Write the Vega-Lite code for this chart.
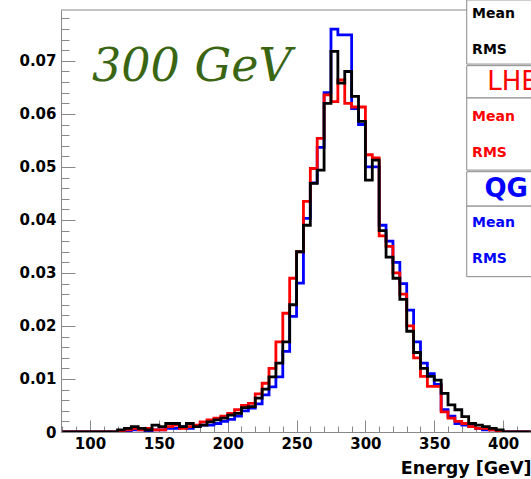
{
  "$schema": "https://vega.github.io/schema/vega-lite/v6.json",
  "width": 470,
  "height": 422,
  "autosize": {"type": "none"},
  "padding": {"left": 61, "top": 10, "right": 0, "bottom": 47},
  "background": "#ffffff",
  "view": {"stroke": null},
  "resolve": {"axis": {"x": "independent", "y": "independent"}},
  "datasets": {
    "h": [
      {"x": 80, "k": 0, "r": 0, "b": 0},
      {"x": 85, "k": 0, "r": 0, "b": 0},
      {"x": 90, "k": 0, "r": 0, "b": 0},
      {"x": 95, "k": 0, "r": 0, "b": 0},
      {"x": 100, "k": 0, "r": 0, "b": 0},
      {"x": 105, "k": 0, "r": 0, "b": 0},
      {"x": 110, "k": 0, "r": 0, "b": 0},
      {"x": 115, "k": 0, "r": 0, "b": 0},
      {"x": 120, "k": 0.0004, "r": 0, "b": 0},
      {"x": 125, "k": 0.0007, "r": 0.0004, "b": 0.0002},
      {"x": 130, "k": 0.001, "r": 0.0007, "b": 0.0004},
      {"x": 135, "k": 0.0007, "r": 0.0004, "b": 0.0004},
      {"x": 140, "k": 0.0004, "r": 0.0007, "b": 0.0002},
      {"x": 145, "k": 0.0013, "r": 0.0004, "b": 0.0004},
      {"x": 150, "k": 0.001, "r": 0.0004, "b": 0.0004},
      {"x": 155, "k": 0.0016, "r": 0.001, "b": 0.0007},
      {"x": 160, "k": 0.0016, "r": 0.0013, "b": 0.0007},
      {"x": 165, "k": 0.001, "r": 0.0007, "b": 0.001},
      {"x": 170, "k": 0.0016, "r": 0.001, "b": 0.0007},
      {"x": 175, "k": 0.001, "r": 0.0013, "b": 0.001},
      {"x": 180, "k": 0.0013, "r": 0.0019, "b": 0.0013},
      {"x": 185, "k": 0.0019, "r": 0.0023, "b": 0.0013},
      {"x": 190, "k": 0.0023, "r": 0.0026, "b": 0.0016},
      {"x": 195, "k": 0.0026, "r": 0.003, "b": 0.002},
      {"x": 200, "k": 0.0032, "r": 0.0035, "b": 0.0024},
      {"x": 205, "k": 0.0035, "r": 0.0042, "b": 0.003},
      {"x": 210, "k": 0.0046, "r": 0.005, "b": 0.004},
      {"x": 215, "k": 0.0048, "r": 0.0054, "b": 0.0045},
      {"x": 220, "k": 0.0064, "r": 0.0072, "b": 0.0053},
      {"x": 225, "k": 0.0081, "r": 0.0092, "b": 0.007},
      {"x": 230, "k": 0.0104, "r": 0.012, "b": 0.0085},
      {"x": 235, "k": 0.013, "r": 0.017, "b": 0.0104},
      {"x": 240, "k": 0.017, "r": 0.0224, "b": 0.0152},
      {"x": 245, "k": 0.024, "r": 0.029, "b": 0.0218},
      {"x": 250, "k": 0.034, "r": 0.034, "b": 0.0281},
      {"x": 255, "k": 0.039, "r": 0.0435, "b": 0.0403},
      {"x": 260, "k": 0.0469, "r": 0.0497, "b": 0.047},
      {"x": 265, "k": 0.0494, "r": 0.0554, "b": 0.0537},
      {"x": 270, "k": 0.062, "r": 0.0636, "b": 0.064},
      {"x": 275, "k": 0.0718, "r": 0.0623, "b": 0.076},
      {"x": 280, "k": 0.0658, "r": 0.0664, "b": 0.0749},
      {"x": 285, "k": 0.068, "r": 0.062, "b": 0.0749},
      {"x": 290, "k": 0.0633, "r": 0.0613, "b": 0.061},
      {"x": 295, "k": 0.0586, "r": 0.0613, "b": 0.058},
      {"x": 300, "k": 0.0475, "r": 0.0523, "b": 0.05},
      {"x": 305, "k": 0.0513, "r": 0.0517, "b": 0.05},
      {"x": 310, "k": 0.038, "r": 0.037, "b": 0.039},
      {"x": 315, "k": 0.033, "r": 0.035, "b": 0.036},
      {"x": 320, "k": 0.029, "r": 0.03, "b": 0.032},
      {"x": 325, "k": 0.025, "r": 0.026, "b": 0.028},
      {"x": 330, "k": 0.019, "r": 0.02, "b": 0.023},
      {"x": 335, "k": 0.015, "r": 0.014, "b": 0.017},
      {"x": 340, "k": 0.012, "r": 0.0105, "b": 0.013},
      {"x": 345, "k": 0.0105, "r": 0.0086, "b": 0.011},
      {"x": 350, "k": 0.0098, "r": 0.0086, "b": 0.009},
      {"x": 355, "k": 0.0073, "r": 0.0038, "b": 0.0042},
      {"x": 360, "k": 0.0051, "r": 0.0026, "b": 0.003},
      {"x": 365, "k": 0.0042, "r": 0.002, "b": 0.0016},
      {"x": 370, "k": 0.0029, "r": 0.0016, "b": 0.0013},
      {"x": 375, "k": 0.0016, "r": 0.001, "b": 0.001},
      {"x": 380, "k": 0.0013, "r": 0.0007, "b": 0.0007},
      {"x": 385, "k": 0.001, "r": 0.0007, "b": 0.0004},
      {"x": 390, "k": 0.0007, "r": 0.0004, "b": 0.0004},
      {"x": 395, "k": 0.0004, "r": 0, "b": 0.0002},
      {"x": 400, "k": 0, "r": 0, "b": 0},
      {"x": 405, "k": 0, "r": 0, "b": 0},
      {"x": 410, "k": 0, "r": 0, "b": 0},
      {"x": 415, "k": 0, "r": 0, "b": 0},
      {"x": 420, "k": 0, "r": 0, "b": 0}
    ]
  },
  "layer": [
    {
      "data": {"name": "h"},
      "transform": [{"fold": ["b"], "as": ["s", "v"]}],
      "mark": {"type": "line", "interpolate": "step-after", "color": "#0000ff", "strokeWidth": 2.8, "clip": true},
      "encoding": {
        "x": {
          "field": "x", "type": "quantitative",
          "scale": {"domain": [78.94, 420.26], "nice": false, "zero": false},
          "axis": {
            "orient": "bottom",
            "title": "Energy [GeV]",
            "titleFont": "DejaVu Sans", "titleFontWeight": "bold", "titleFontSize": 17.5,
            "titleColor": "#000000",
            "titleAnchor": "end", "titleAlign": "right", "titlePadding": 2,
            "values": [80, 90, 100, 110, 120, 130, 140, 150, 160, 170, 180, 190, 200, 210, 220, 230, 240, 250, 260, 270, 280, 290, 300, 310, 320, 330, 340, 350, 360, 370, 380, 390, 400, 410, 420],
            "labelExpr": "datum.value % 50 == 0 ? format(datum.value, 'd') : ''",
            "labelFont": "DejaVu Sans", "labelFontWeight": "bold", "labelFontSize": 15,
            "labelColor": "#000000", "labelOverlap": false, "labelFlush": false,
            "labelPadding": 16,
            "tickSize": {"condition": {"test": "datum.value % 50 == 0", "value": -12}, "value": -6},
            "tickColor": "#888888", "tickWidth": 1,
            "domainColor": "#888888", "domainWidth": 1,
            "grid": false
          }
        },
        "y": {
          "field": "v", "type": "quantitative",
          "scale": {"domain": [0, 0.0796], "nice": false, "zero": false},
          "axis": {
            "orient": "left",
            "title": null,
            "values": [0, 0.002, 0.004, 0.006, 0.008, 0.01, 0.012, 0.014, 0.016, 0.018, 0.02, 0.022, 0.024, 0.026, 0.028, 0.03, 0.032, 0.034, 0.036, 0.038, 0.04, 0.042, 0.044, 0.046, 0.048, 0.05, 0.052, 0.054, 0.056, 0.058, 0.06, 0.062, 0.064, 0.066, 0.068, 0.07, 0.072, 0.074, 0.076, 0.078],
            "labelExpr": "abs(datum.value * 100 - round(datum.value * 100)) < 0.001 ? format(datum.value, '.2~f') : ''",
            "labelFont": "DejaVu Sans", "labelFontWeight": "bold", "labelFontSize": 15,
            "labelColor": "#000000", "labelOverlap": false, "labelFlush": false,
            "labelPadding": 19,
            "tickSize": {"condition": {"test": "abs(datum.value * 100 - round(datum.value * 100)) < 0.001", "value": -14}, "value": -8},
            "tickColor": "#888888", "tickWidth": 1,
            "domainColor": "#888888", "domainWidth": 1,
            "grid": false
          }
        }
      }
    },
    {
      "data": {"name": "h"},
      "transform": [{"fold": ["r"], "as": ["s", "v"]}],
      "mark": {"type": "line", "interpolate": "step-after", "color": "#ff0000", "strokeWidth": 2.8, "clip": true},
      "encoding": {
        "x": {"field": "x", "type": "quantitative", "axis": null},
        "y": {"field": "v", "type": "quantitative", "axis": null}
      }
    },
    {
      "data": {"name": "h"},
      "transform": [{"fold": ["k"], "as": ["s", "v"]}],
      "mark": {"type": "line", "interpolate": "step-after", "color": "#000000", "strokeWidth": 2.8, "clip": true},
      "encoding": {
        "x": {"field": "x", "type": "quantitative", "axis": null},
        "y": {"field": "v", "type": "quantitative", "axis": null}
      }
    },
    {
      "data": {"values": [{"t": "frame"}]},
      "mark": {"type": "rule", "color": "#888888", "strokeWidth": 1, "clip": false},
      "encoding": {"x": {"datum": 78.94, "axis": null}, "x2": {"datum": 373.6}, "y": {"datum": 0.0796, "axis": null}}
    },
    {
      "data": {"values": [{"t": "300 GeV"}]},
      "mark": {"type": "text", "font": "DejaVu Serif", "fontStyle": "italic", "fontSize": 46, "color": "#3a6614", "align": "left", "baseline": "alphabetic"},
      "encoding": {"text": {"field": "t"}, "x": {"datum": 101.5, "axis": null}, "y": {"datum": 0.0662, "axis": null}}
    },
    {
      "data": {"values": [{"t": "box"}]},
      "mark": {"type": "rect", "fill": "#ffffff", "stroke": "#888888", "strokeWidth": 1, "clip": false},
      "encoding": {"x": {"datum": 373.6, "axis": null}, "x2": {"datum": 440}, "y": {"datum": 0.0815, "axis": null}, "y2": {"datum": 0.0694}}
    },
    {
      "data": {"values": [{"t": "box"}]},
      "mark": {"type": "rect", "fill": "#ffffff", "stroke": "#888888", "strokeWidth": 1, "clip": false},
      "encoding": {"x": {"datum": 373.6, "axis": null}, "x2": {"datum": 440}, "y": {"datum": 0.0691, "axis": null}, "y2": {"datum": 0.063}}
    },
    {
      "data": {"values": [{"t": "box"}]},
      "mark": {"type": "rect", "fill": "#ffffff", "stroke": "#888888", "strokeWidth": 1, "clip": false},
      "encoding": {"x": {"datum": 373.6, "axis": null}, "x2": {"datum": 440}, "y": {"datum": 0.063, "axis": null}, "y2": {"datum": 0.0494}}
    },
    {
      "data": {"values": [{"t": "box"}]},
      "mark": {"type": "rect", "fill": "#ffffff", "stroke": "#888888", "strokeWidth": 1, "clip": false},
      "encoding": {"x": {"datum": 373.6, "axis": null}, "x2": {"datum": 440}, "y": {"datum": 0.0491, "axis": null}, "y2": {"datum": 0.0426}}
    },
    {
      "data": {"values": [{"t": "box"}]},
      "mark": {"type": "rect", "fill": "#ffffff", "stroke": "#888888", "strokeWidth": 1, "clip": false},
      "encoding": {"x": {"datum": 373.6, "axis": null}, "x2": {"datum": 440}, "y": {"datum": 0.0426, "axis": null}, "y2": {"datum": 0.0293}}
    },
    {
      "data": {"values": [{"t": "Mean"}]},
      "mark": {"type": "text", "font": "DejaVu Sans", "fontWeight": "bold", "fontSize": 14, "color": "#000000", "align": "left", "baseline": "middle", "clip": false},
      "encoding": {"text": {"field": "t"}, "x": {"datum": 377.5, "axis": null}, "y": {"datum": 0.0789, "axis": null}}
    },
    {
      "data": {"values": [{"t": "RMS"}]},
      "mark": {"type": "text", "font": "DejaVu Sans", "fontWeight": "bold", "fontSize": 14, "color": "#000000", "align": "left", "baseline": "middle", "clip": false},
      "encoding": {"text": {"field": "t"}, "x": {"datum": 377.5, "axis": null}, "y": {"datum": 0.0721, "axis": null}}
    },
    {
      "data": {"values": [{"t": "LHE"}]},
      "mark": {"type": "text", "font": "DejaVu Sans", "fontSize": 26, "color": "#ff0000", "align": "left", "baseline": "middle", "clip": false},
      "encoding": {"text": {"field": "t"}, "x": {"datum": 388.5, "axis": null}, "y": {"datum": 0.066, "axis": null}}
    },
    {
      "data": {"values": [{"t": "Mean"}]},
      "mark": {"type": "text", "font": "DejaVu Sans", "fontWeight": "bold", "fontSize": 14, "color": "#ff0000", "align": "left", "baseline": "middle", "clip": false},
      "encoding": {"text": {"field": "t"}, "x": {"datum": 377.5, "axis": null}, "y": {"datum": 0.0594, "axis": null}}
    },
    {
      "data": {"values": [{"t": "RMS"}]},
      "mark": {"type": "text", "font": "DejaVu Sans", "fontWeight": "bold", "fontSize": 14, "color": "#ff0000", "align": "left", "baseline": "middle", "clip": false},
      "encoding": {"text": {"field": "t"}, "x": {"datum": 377.5, "axis": null}, "y": {"datum": 0.0526, "axis": null}}
    },
    {
      "data": {"values": [{"t": "QG"}]},
      "mark": {"type": "text", "font": "DejaVu Sans", "fontWeight": "bold", "fontSize": 26, "color": "#0000ff", "align": "left", "baseline": "middle", "clip": false},
      "encoding": {"text": {"field": "t"}, "x": {"datum": 386.5, "axis": null}, "y": {"datum": 0.0458, "axis": null}}
    },
    {
      "data": {"values": [{"t": "Mean"}]},
      "mark": {"type": "text", "font": "DejaVu Sans", "fontWeight": "bold", "fontSize": 14, "color": "#0000ff", "align": "left", "baseline": "middle", "clip": false},
      "encoding": {"text": {"field": "t"}, "x": {"datum": 377.5, "axis": null}, "y": {"datum": 0.0394, "axis": null}}
    },
    {
      "data": {"values": [{"t": "RMS"}]},
      "mark": {"type": "text", "font": "DejaVu Sans", "fontWeight": "bold", "fontSize": 14, "color": "#0000ff", "align": "left", "baseline": "middle", "clip": false},
      "encoding": {"text": {"field": "t"}, "x": {"datum": 377.5, "axis": null}, "y": {"datum": 0.0326, "axis": null}}
    }
  ]
}
